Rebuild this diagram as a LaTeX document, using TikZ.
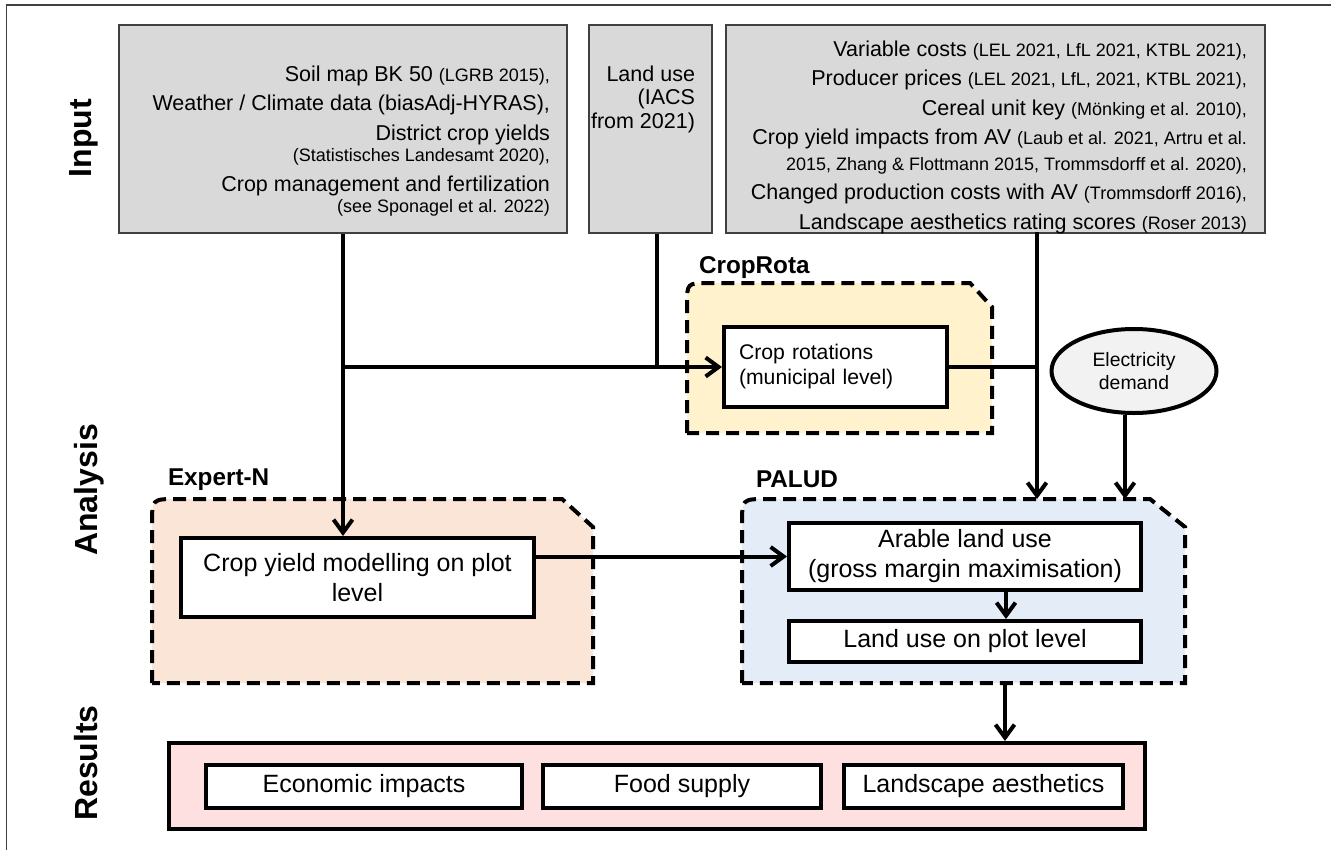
\documentclass[tikz,border=0pt]{standalone}
\usepackage{fontspec}
\setmainfont{Liberation Sans}
\usetikzlibrary{arrows.meta,shapes.geometric}

\newcommand{\inbig}{\fontsize{21.5}{29.5}\selectfont}
\newcommand{\insmall}[1]{{\fontsize{18}{29.5}\selectfont #1}}

\definecolor{inputgray}{HTML}{D9D9D9}
\definecolor{framegray}{HTML}{404040}
\definecolor{expertfill}{HTML}{FBE5D6}
\definecolor{rotafill}{HTML}{FFF2CC}
\definecolor{paludfill}{HTML}{E4ECF7}
\definecolor{resultfill}{HTML}{FFE0E0}
\definecolor{elecfill}{HTML}{F2F2F2}

\begin{document}
\begin{tikzpicture}[x=1pt, y=-1pt, line width=4pt, >={Straight Barb[length=13pt,width=19pt]},
    inbox/.style={draw=framegray, line width=2pt, fill=inputgray, anchor=north west, inner sep=0pt},
    intext/.style={anchor=north east, align=right, inner sep=0pt, font=\inbig},
    modbox/.style={draw=black, fill=white, anchor=north west, align=center, inner sep=0pt,
        font=\fontsize{25}{30}\selectfont},
    grouplbl/.style={anchor=base west, inner sep=0pt, font=\fontsize{24.3}{28}\selectfont\bfseries},
    rowlbl/.style={rotate=90, anchor=base, inner sep=0pt, font=\fontsize{32}{36}\selectfont\bfseries},
    container/.style={dash pattern=on 13pt off 7pt, line width=4pt}]
    \useasboundingbox (0,0) rectangle (1331,849);
    \draw[framegray, line width=1.5pt] (6.5,5) rectangle (1345,865);

    % row labels
    \node[rowlbl] (inputlbl) at (91,138) {Input};
    \node[rowlbl] (analysislbl) at (97,490) {Analysis};
    \node[rowlbl] (resultslbl) at (97,763) {Results};

    % input data
    \node[inbox, minimum width=448, minimum height=208] (soil) at (118,24) {};
    \node[inbox, minimum width=123, minimum height=208] (landuse) at (588,24) {};
    \node[inbox, minimum width=539, minimum height=208] (costs) at (725,24) {};
    \node[intext] (soiltxt) at (552,63.6) {Soil map BK 50 \insmall{(LGRB 2015),}\\
        Weather / Climate data (biasAdj-HYRAS),\\
        District crop yields\\[-8pt]
        \insmall{(Statistisches Landesamt 2020),}\\
        Crop management and fertilization\\[-8pt]
        \insmall{(see Sponagel et al. 2022)}};
    \node[intext, font=\fontsize{21.5}{23.5}\selectfont] (landusetxt) at (697,63.6) {Land use\\(IACS\\from 2021)};
    \node[intext] (coststxt) at (1249,38.6) {Variable costs \insmall{(LEL 2021, LfL 2021, KTBL 2021),}\\
        Producer prices \insmall{(LEL 2021, LfL, 2021, KTBL 2021),}\\
        Cereal unit key \insmall{(Mönking et al. 2010),}\\
        Crop yield impacts from AV \insmall{(Laub et al. 2021, Artru et al.}\\[-4pt]
        \insmall{2015, Zhang \& Flottmann 2015, Trommsdorff et al. 2020),}\\
        Changed production costs with AV \insmall{(Trommsdorff 2016),}\\
        Landscape aesthetics rating scores \insmall{(Roser 2013)}};

    % model groups
    \draw[container, fill=rotafill] (687,433) -- (687,305) .. controls (687,283) .. (709,283)
        -- (970,283) -- (992,307) -- (992,433) -- cycle;
    \draw[container, fill=expertfill] (152,683) -- (152,524) .. controls (152,499) .. (177,499)
        -- (562,499) -- (593,527) -- (593,683) -- cycle;
    \draw[container, fill=paludfill] (742,683) -- (742,524) .. controls (742,499) .. (767,499)
        -- (1150,499) -- (1185,527) -- (1185,683) -- cycle;
    \node[grouplbl] (rotalbl) at (697,273) {CropRota};
    \node[grouplbl] (expertlbl) at (166,485) {Expert-N};
    \node[grouplbl] (paludlbl) at (754,487) {PALUD};

    \node[modbox, minimum width=223, minimum height=80, align=left, text width=193, inner xsep=15,
        font=\fontsize{21.2}{25}\selectfont] (rot) at (722,325) {Crop rotations\\(municipal level)};
    \node[modbox, minimum width=353, minimum height=79] (yield) at (179,536) {Crop yield modelling on plot\\level};
    \node[modbox, minimum width=352, minimum height=67] (arable) at (787,521) {Arable land use\\(gross margin maximisation)};
    \node[modbox, minimum width=352, minimum height=41] (plot) at (787,619) {Land use on plot level};
    \node[draw, ellipse, fill=elecfill, minimum width=165, minimum height=84, inner sep=0pt, align=center,
        font=\fontsize{19.4}{22.5}\selectfont] (elec) at (1134,371) {Electricity\\demand};

    % results
    \node[draw, fill=resultfill, anchor=north west, minimum width=976, minimum height=86, inner sep=0pt] (results) at (167,741) {};
    \node[modbox, minimum width=316, minimum height=43] (econ) at (204,763) {Economic impacts};
    \node[modbox, minimum width=278, minimum height=43] (food) at (541,763) {Food supply};
    \node[modbox, minimum width=279, minimum height=43] (aesth) at (842,763) {Landscape aesthetics};

    % connectors
    \coordinate (paludtop) at (742,499);
    \coordinate (paludbot) at (1005,683);
    \coordinate (costdrop) at (1037,232);
    \draw[->] (soil.south) -- (soil.south |- yield.north);
    \draw[->] (soil.south |- rot.west) -- (rot.west);
    \draw ([xshift=6pt]landuse.south) -- ([xshift=6pt]landuse.south |- rot.west);
    \draw (rot.east) -- (rot.east -| costdrop);
    \draw[->] (costdrop) -- (costdrop |- paludtop);
    \draw[->] ([xshift=-9pt]elec.south) -- ([xshift=-9pt]elec.south |- paludtop);
    \draw[->] (yield.east |- arable.west) -- (arable.west);
    \draw[->] ([xshift=41pt]arable.south) -- ([xshift=41pt]arable.south |- plot.north);
    \draw[->] (paludbot) -- (paludbot |- results.north);
\end{tikzpicture}
\end{document}
